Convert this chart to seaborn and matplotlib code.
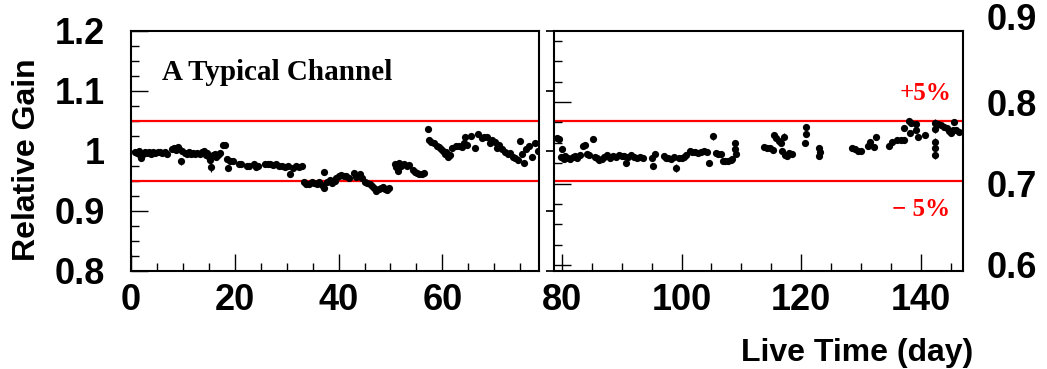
import matplotlib
matplotlib.use("Agg")
import matplotlib.pyplot as plt
from matplotlib.ticker import MultipleLocator
import matplotlib.transforms as mtransforms
import seaborn as sns
import pandas as pd

# ---- relative gain of one channel versus live time ----
days_early = [0.8, 1.2, 1.5, 1.8, 2.0, 2.3, 2.7, 3.1, 3.5, 3.9, 4.3, 4.7, 5.1, 5.5, 6.0, 6.5, 7.0,
              7.9, 8.3, 8.6, 9.0, 9.3, 9.7, 9.9,
              10.3, 10.7, 11.1, 11.5, 12.0, 12.4, 12.8, 13.3, 13.7,
              14.1, 14.4, 14.7, 15.0, 15.3, 15.5, 15.8, 16.1, 16.4, 16.8, 17.2,
              17.8, 18.2, 18.5, 18.7, 19.0, 19.6, 20.8, 21.2,
              22.3, 22.8, 23.6, 24.0, 24.5,
              25.8, 26.3, 26.8, 27.4, 27.9, 28.5, 29.1,
              29.7, 30.2, 30.7, 31.2, 31.7, 32.3, 32.9,
              33.3, 33.8, 34.3, 34.8, 35.3, 35.8, 36.3, 36.8,
              37.1, 37.2, 37.8, 38.3, 38.8, 39.3,
              39.6, 40.0, 40.5, 41.0, 41.5, 42.0, 42.9, 43.4, 43.8, 44.2, 44.6,
              45.0, 45.5, 46.0, 46.4, 46.9, 47.3, 47.7, 48.2, 48.6, 49.0, 49.4, 49.8,
              50.8, 51.1, 51.4, 51.7, 52.1, 52.6, 53.1, 53.6,
              54.3, 54.7, 55.1, 55.5, 56.0, 56.5,
              57.2, 57.5, 57.9, 58.4, 58.9, 59.4, 59.8,
              60.2, 60.5, 60.8, 61.1, 61.5, 61.9,
              62.7, 63.2, 63.7, 64.1, 64.4, 64.8, 65.6, 66.3, 66.8,
              67.6, 68.1, 68.6, 69.1, 69.6, 70.2,
              70.6, 71.0, 71.6, 72.1, 72.6, 73.1, 73.6, 74.1, 74.6, 75.0, 75.4, 75.8,
              76.2, 76.8, 77.3, 77.8, 78.4]
gain_early = [0.998, 0.996, 0.999, 0.992, 0.987, 0.995, 0.997, 0.996, 0.998, 0.995, 0.997, 0.996, 0.998, 0.997, 0.996, 0.997, 0.995,
              1.002, 1.005, 1.001, 1.006, 1.003, 0.982, 0.999,
              0.996, 0.994, 0.997, 0.995, 0.996, 0.994, 0.996, 0.995, 0.997,
              0.999, 0.993, 0.996, 0.990, 0.985, 0.973, 0.992, 0.995, 0.990, 0.993, 0.996,
              1.009, 1.009, 0.986, 0.971, 0.982, 0.983, 0.977, 0.978,
              0.975, 0.974, 0.977, 0.972, 0.975,
              0.978, 0.977, 0.978, 0.976, 0.978, 0.974, 0.975,
              0.972, 0.974, 0.961, 0.971, 0.975, 0.972, 0.974,
              0.948, 0.945, 0.944, 0.947, 0.946, 0.944, 0.947, 0.943,
              0.964, 0.937, 0.947, 0.951, 0.946, 0.950,
              0.955, 0.958, 0.959, 0.957, 0.958, 0.955, 0.962, 0.956, 0.957, 0.961, 0.955,
              0.948, 0.946, 0.944, 0.941, 0.938, 0.933, 0.936, 0.937, 0.939, 0.936, 0.935, 0.938,
              0.978, 0.972, 0.966, 0.980, 0.974, 0.977, 0.975, 0.976,
              0.968, 0.964, 0.962, 0.961, 0.961, 0.962,
              1.036, 1.018, 1.015, 1.012, 1.008, 1.006, 1.003,
              1.000, 0.995, 0.997, 0.990, 0.993, 1.005,
              1.007, 1.008, 1.006, 1.012, 1.022, 1.010, 1.025, 1.005, 1.028,
              1.021, 1.022, 1.023, 1.013, 1.018, 1.015,
              1.005, 1.009, 1.002, 0.997, 0.994, 0.996, 0.990, 0.988, 0.985, 1.016, 0.995, 0.980,
              1.002, 1.007, 0.990, 1.012, 1.000]

days_late = [79.2, 79.5, 79.9, 80.1, 80.3, 80.6, 81.0, 81.4, 81.8, 82.2, 82.6, 83.0, 83.5, 83.8, 84.2, 84.6,
             85.2, 85.5, 85.9, 86.3, 86.7, 87.1, 87.6, 88.0, 88.5, 89.0, 89.5, 90.0, 90.4, 90.7, 91.0,
             91.5, 92.0, 92.5, 93.0, 93.6,
             95.0, 95.3, 95.6,
             97.0, 97.4, 97.8, 98.3, 98.7, 99.1, 99.5, 100.0, 100.4, 100.8,
             101.4, 101.8, 102.3, 102.8, 103.3, 103.8, 104.2, 104.6,
             105.2, 105.7, 106.1, 106.6,
             106.9, 107.3, 107.8, 108.2, 108.5,
             108.9, 109.0, 109.1,
             113.8, 114.2, 114.7, 115.2, 115.4, 115.8, 116.2, 116.6, 117.1, 116.8, 117.2, 117.6, 118.0, 118.4,
             120.7, 120.7, 120.6,
             123.0, 123.1, 123.0,
             128.5, 129.0, 129.5, 130.0,
             131.1, 131.4, 132.2, 132.4,
             134.6, 135.2, 136.0, 136.6, 137.2, 137.1, 137.9, 138.3, 138.2, 139.1, 139.2, 139.4, 140.6,
             142.4, 142.4, 142.3, 142.4, 142.4, 142.9, 143.4, 143.9, 144.3, 144.6, 145.0, 145.3, 145.5,
             145.9, 146.3]
gain_late = [1.021, 1.020, 0.990, 1.003, 0.986, 0.991, 0.988, 0.986, 0.990, 0.991, 0.988, 0.992, 1.008, 1.009, 0.994, 0.992,
             1.019, 0.990, 0.988, 0.985, 0.986, 0.990, 0.992, 0.988, 0.991, 0.990, 0.993, 0.991, 0.991, 0.980, 0.989,
             0.992, 0.990, 0.988, 0.989, 0.988,
             0.987, 0.975, 0.994,
             0.991, 0.987, 0.988, 0.986, 0.989, 0.971, 0.988, 0.987, 0.989, 0.993,
             0.999, 0.997, 0.998, 0.996, 0.998, 0.999, 0.997, 0.979,
             1.024, 0.996, 0.994, 0.995,
             0.983, 0.982, 0.983, 0.984, 0.986,
             1.013, 1.003, 0.995,
             1.006, 1.004, 1.005, 1.001, 1.026, 1.021, 1.016, 1.013, 1.023, 1.000, 0.993, 0.991, 0.996, 0.994,
             1.040, 1.027, 1.013,
             1.004, 0.997, 0.991,
             1.004, 1.003, 1.000, 0.999,
             1.007, 1.015, 1.006, 1.023,
             1.007, 1.015, 1.017, 1.018, 1.018, 1.037, 1.050, 1.046, 1.029, 1.045, 1.035, 1.023, 1.026,
             1.046, 1.036, 1.015, 1.005, 0.993, 1.045, 1.042, 1.040, 1.037, 1.032, 1.030, 1.034, 1.047,
             1.035, 1.031]

# typical uncertainty, and the days whose points carry a larger one
base_err = 0.002
wide_err_days_early = [2.0, 9.7, 15.3, 15.5, 18.7, 30.7, 37.2]
wide_err_early = [0.004, 0.006, 0.005, 0.008, 0.004, 0.005, 0.004]
wide_err_days_late = [79.9, 90.7, 99.1, 105.2, 117.1, 120.6, 123.0, 140.6, 142.4, 142.3]
wide_err_late = [0.004, 0.005, 0.006, 0.006, 0.006, 0.004, 0.004, 0.005, 0.007, 0.006]

band_hi, band_lo = 1.05, 0.95
split_day = 78.7
left_ticks = [0.8, 0.9, 1.0, 1.1, 1.2]
right_ticks = [0.6, 0.7, 0.8]
right_top_label = 0.9


def errors_for(days, wide_days, wide_vals):
    lookup = dict(zip(wide_days, wide_vals))
    return [lookup.get(d, base_err) for d in days]


early = pd.DataFrame({"day": days_early, "gain": gain_early,
                      "err": errors_for(days_early, wide_err_days_early, wide_err_early)})
late = pd.DataFrame({"day": days_late, "gain": gain_late,
                     "err": errors_for(days_late, wide_err_days_late, wide_err_late)})

sns.set_theme(style="white")
plt.rcParams["font.family"] = ["Liberation Sans", "DejaVu Sans"]
plt.rcParams["font.weight"] = "bold"
for key in ("text.color", "axes.labelcolor", "xtick.color", "ytick.color", "axes.edgecolor"):
    plt.rcParams[key] = "black"

fig = plt.figure(figsize=(10.47, 3.69), dpi=100)
ax1 = fig.add_axes([0.1252, 0.2664, 0.3899, 0.6504])
ax2 = fig.add_axes([0.5291, 0.2664, 0.3907, 0.6504])

tick_font = dict(family="Liberation Sans", weight="bold", size=26)

for ax, df, xlim in ((ax1, early, (0, split_day)), (ax2, late, (split_day, 147))):
    ax.errorbar(df["day"], df["gain"], yerr=df["err"], fmt="none", ecolor="black",
                elinewidth=0.9, capsize=0, zorder=2)
    sns.scatterplot(data=df, x="day", y="gain", ax=ax, color="black", s=27,
                    edgecolor="black", linewidth=0, zorder=3, legend=False)
    ax.axhline(band_hi, color="red", lw=1.6, zorder=1)
    ax.axhline(band_lo, color="red", lw=1.6, zorder=1)
    ax.set_xlim(*xlim)
    ax.set_ylim(0.8, 1.2)
    ax.set_xlabel("")
    ax.set_ylabel("")
    ax.xaxis.set_major_locator(MultipleLocator(20))
    ax.xaxis.set_minor_locator(MultipleLocator(5))
    ax.tick_params(axis="x", which="both", direction="in", bottom=True, top=False,
                   color="black", labelcolor="black", width=1.0)
    ax.tick_params(axis="x", which="major", length=12, pad=9)
    ax.tick_params(axis="x", which="minor", length=6)
    for lab in ax.get_xticklabels():
        lab.set_fontproperties(tick_font)
    for sp in ax.spines.values():
        sp.set_color("black")
        sp.set_linewidth(1.5)
        sp.set_visible(True)

# left panel y axis
ax1.set_yticks(left_ticks)
ax1.set_yticklabels(["0.8", "0.9", "1", "1.1", "1.2"])
ax1.yaxis.set_minor_locator(MultipleLocator(0.025))
ax1.tick_params(axis="y", which="both", direction="in", left=True, right=False,
                color="black", labelcolor="black", width=1.0)
ax1.tick_params(axis="y", which="major", length=12, pad=19)
ax1.tick_params(axis="y", which="minor", length=6)
for lab in ax1.get_yticklabels():
    lab.set_fontproperties(tick_font)
ax1.set_ylabel("Relative Gain", fontsize=23, fontweight="bold", va="center", color="black")
ax1.yaxis.set_label_coords(-0.255, 0.461)

ax1.text(6.0, 1.118, "A Typical Channel", family=["Liberation Serif", "DejaVu Serif"],
         weight="bold", fontsize=21, va="baseline", ha="left", color="black")

# right panel: gain data with its own scale axis
ax2.tick_params(axis="y", which="both", left=False, right=False, labelleft=False)
ax2.set_xticks([80, 100, 120, 140])
for lab in ax2.get_xticklabels():
    lab.set_fontproperties(tick_font)
ax2.set_xlabel("Live Time (day)", fontsize=23, fontweight="bold", ha="right", va="center",
               color="black")
ax2.xaxis.set_label_coords(1.0245, -0.345)

ax2.text(145.1, 1.084, "+5%", color="red", family=["Liberation Serif", "DejaVu Serif"],
         weight="bold", fontsize=18, ha="right", va="baseline")
ax2.text(144.8, 0.891, "\u2212 5%", color="red", family=["Liberation Serif", "DejaVu Serif"],
         weight="bold", fontsize=18, ha="right", va="baseline")

ax2t = ax2.twinx()
ax2t.set_ylim(0.593, 0.8876)
ax2t.set_yticks(right_ticks)
ax2t.set_yticklabels([f"{v:.1f}" for v in right_ticks])
ax2t.yaxis.set_minor_locator(MultipleLocator(0.025))
ax2t.tick_params(axis="y", which="both", direction="in", left=True, right=False,
                 labelleft=False, labelright=True, color="black", labelcolor="black", width=1.0)
ax2t.tick_params(axis="y", which="major", length=12, pad=17)
ax2t.tick_params(axis="y", which="minor", length=6)
for lab in ax2t.get_yticklabels():
    lab.set_fontproperties(tick_font)
trans = mtransforms.blended_transform_factory(ax2t.transAxes, ax2t.transData)
offset = mtransforms.ScaledTranslation(17 / 72, 0, fig.dpi_scale_trans)
ax2t.text(1.0, right_top_label, f"{right_top_label:.1f}", transform=trans + offset,
          ha="left", va="center", clip_on=False, fontproperties=tick_font, color="black")
for sp in ax2t.spines.values():
    sp.set_visible(False)

fig.savefig("out.png", dpi=100)
